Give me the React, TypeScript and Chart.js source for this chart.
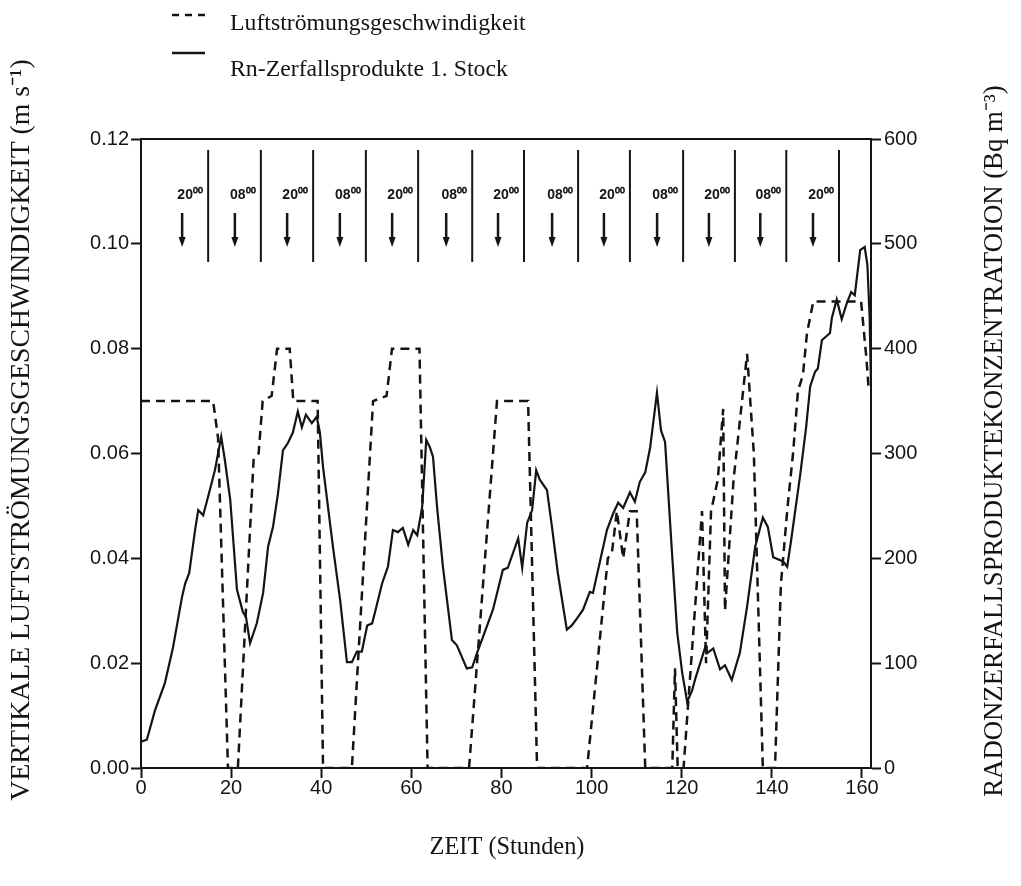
import React, { useEffect, useRef } from "react";
import { Chart, registerables } from "chart.js";

Chart.register(...registerables);

// ---- data ----
// dashed series: vertical air-flow speed (m/s), left axis
const airHours = [
  0, 16.0, 17.1, 19.3, 21.5, 25.0, 26.1, 27.0, 29.0, 30.2,
  33.0, 33.8, 39.2, 40.4, 46.8, 51.5, 54.5, 55.7, 61.8, 63.6,
  72.8, 79.0, 85.9, 87.9, 99.0, 103.6, 104.5, 105.6, 107.0, 108.5,
  110.0, 111.9, 117.9, 118.5, 119.1, 120.4, 124.5, 125.4, 126.5, 128.0,
  129.2, 129.6, 131.5, 134.5, 136.0, 138.0, 140.7, 142.0, 143.5, 144.7,
  145.8, 146.9, 147.8, 149.2, 159.8, 161.0, 161.5,
];
const airSpeed = [
  0.07, 0.07, 0.063, 0, 0, 0.059, 0.06, 0.07, 0.071, 0.08,
  0.08, 0.07, 0.07, 0, 0, 0.07, 0.071, 0.08, 0.08, 0,
  0, 0.07, 0.07, 0, 0, 0.04, 0.041, 0.049, 0.04, 0.049,
  0.049, 0, 0, 0.019, 0, 0, 0.049, 0.02, 0.049, 0.055,
  0.0685, 0.03, 0.055, 0.079, 0.06, 0, 0, 0.035, 0.05, 0.06,
  0.072, 0.075, 0.083, 0.089, 0.089, 0.078, 0.072,
];

// solid series: Rn decay products, ground floor (Bq/m3), right axis
const radonHours = [
  0, 1.3, 3.1, 5.3, 7.1, 9.1, 9.8, 10.7, 12.0, 12.7,
  13.8, 14.9, 16.4, 17.8, 18.6, 19.8, 21.3, 22.6, 23.3, 24.2,
  25.7, 27.1, 28.2, 29.3, 30.4, 31.5, 32.6, 33.7, 34.8, 35.7,
  36.6, 37.9, 39.0, 39.7, 40.4, 42.6, 44.2, 45.7, 46.8, 47.9,
  49.0, 50.2, 51.3, 51.9, 53.5, 54.8, 55.9, 57.0, 58.1, 59.3,
  60.4, 61.3, 62.4, 63.3, 64.1, 64.8, 65.7, 67.0, 69.0, 70.1,
  71.2, 72.3, 73.5, 74.6, 75.9, 78.1, 80.3, 81.4, 83.7, 84.6,
  85.7, 86.8, 87.7, 88.5, 90.1, 91.2, 92.5, 94.5, 95.6, 96.8,
  98.1, 99.6, 100.3, 101.9, 103.4, 104.8, 105.9, 107.0, 108.5, 109.6,
  110.7, 111.9, 113.0, 114.5, 115.4, 116.3, 117.8, 119.0, 120.1, 121.2,
  122.3, 123.0, 124.1, 125.2, 125.8, 127.0, 128.5, 129.6, 131.1, 132.9,
  134.5, 136.3, 138.0, 139.1, 140.3, 142.5, 143.4, 144.3, 146.3, 147.6,
  148.5, 149.6, 150.2, 151.1, 152.9, 153.3, 154.4, 155.5, 156.6, 157.6,
  158.4, 159.6, 160.6, 161.2, 161.7, 162.0,
];
const radonConc = [
  25, 27, 55, 81, 115, 163, 176, 186, 227, 246,
  241, 259, 284, 316, 294, 256, 170, 149, 144, 119,
  138, 167, 211, 230, 262, 303, 310, 320, 340, 325,
  337, 329, 335, 320, 287, 211, 160, 101, 101, 111,
  111, 136, 138, 148, 176, 192, 227, 225, 229, 213,
  227, 222, 249, 313, 306, 297, 249, 192, 122, 117,
  106, 95, 96, 110, 125, 151, 189, 191, 219, 191,
  234, 246, 284, 275, 265, 230, 186, 132, 136, 143,
  151, 168, 167, 198, 227, 243, 253, 248, 263, 254,
  273, 282, 306, 358, 322, 311, 208, 129, 91, 63,
  74, 85, 100, 115, 110, 114, 94, 98, 84, 110,
  154, 211, 239, 230, 201, 197, 192, 218, 280, 325,
  364, 378, 381, 408, 415, 429, 447, 428, 443, 454,
  451, 494, 497, 480, 430, 365,
];

// time markers in the top band
const markerHours = [14.9, 26.6, 38.2, 49.9, 61.5, 73.5, 85.0, 97.0, 108.5, 120.3, 131.8, 143.2, 154.9];
const markerLabels = [
  "20⁰⁰", "08⁰⁰", "20⁰⁰", "08⁰⁰", "20⁰⁰", "08⁰⁰", "20⁰⁰",
  "08⁰⁰", "20⁰⁰", "08⁰⁰", "20⁰⁰", "08⁰⁰", "20⁰⁰",
];

const legendLabels = ["Luftströmungsgeschwindigkeit", "Rn-Zerfallsprodukte 1. Stock"];
const leftTitle = "VERTIKALE LUFTSTRÖMUNGSGESCHWINDIGKEIT (m s⁻¹)";
const rightTitle = "RADONZERFALLSPRODUKTEKONZENTRATOION (Bq m⁻³)";
const xTitle = "ZEIT (Stunden)";

const INK = "#141414";
const SANS = '"Liberation Sans", Arial, Helvetica, sans-serif';
const SERIF = '"Liberation Serif", "Times New Roman", Times, serif';

function fitSize(ctx: CanvasRenderingContext2D, text: string, family: string, target: number) {
  ctx.font = `100px ${family}`;
  const w = ctx.measureText(text).width;
  return (100 * target) / w;
}

const annotPlugin = {
  id: "annot",
  afterDraw(chart: any) {
    const { ctx, chartArea: ca, scales } = chart;
    const xs = scales.x;
    ctx.save();
    ctx.strokeStyle = INK;
    ctx.fillStyle = INK;

    // top frame line
    ctx.lineWidth = 2;
    ctx.beginPath();
    ctx.moveTo(ca.left, ca.top);
    ctx.lineTo(ca.right, ca.top);
    ctx.stroke();

    // time marker band
    markerHours.forEach((h, i) => {
      const px = xs.getPixelForValue(h);
      ctx.lineWidth = 2;
      ctx.beginPath();
      ctx.moveTo(px, ca.top + 11);
      ctx.lineTo(px, ca.top + 123);
      ctx.stroke();

      ctx.font = `bold 14px ${SANS}`;
      ctx.textAlign = "center";
      ctx.textBaseline = "middle";
      ctx.fillText(markerLabels[i], px - 18, ca.top + 56);

      const ax = px - 26;
      ctx.lineWidth = 2.5;
      ctx.beginPath();
      ctx.moveTo(ax, ca.top + 74);
      ctx.lineTo(ax, ca.top + 100);
      ctx.stroke();
      ctx.beginPath();
      ctx.moveTo(ax - 3.5, ca.top + 98);
      ctx.lineTo(ax + 3.5, ca.top + 98);
      ctx.lineTo(ax, ca.top + 108);
      ctx.closePath();
      ctx.fill();
    });

    // legend
    ctx.lineWidth = 2.5;
    ctx.setLineDash([7, 6]);
    ctx.beginPath();
    ctx.moveTo(172, 15);
    ctx.lineTo(206, 15);
    ctx.stroke();
    ctx.setLineDash([]);
    ctx.beginPath();
    ctx.moveTo(172, 53);
    ctx.lineTo(205, 53);
    ctx.stroke();

    ctx.textAlign = "left";
    ctx.textBaseline = "alphabetic";
    const lfs = fitSize(ctx, legendLabels[1], SERIF, 278);
    ctx.font = `${lfs}px ${SERIF}`;
    ctx.fillText(legendLabels[0], 230, 30);
    ctx.fillText(legendLabels[1], 230, 76);

    // axis titles
    ctx.textAlign = "center";
    ctx.textBaseline = "middle";
    let fs = fitSize(ctx, xTitle, SERIF, 155);
    ctx.font = `${fs}px ${SERIF}`;
    ctx.fillText(xTitle, 507, 848);

    fs = fitSize(ctx, leftTitle, SERIF, 742);
    ctx.font = `${fs}px ${SERIF}`;
    ctx.save();
    ctx.translate(22, 430);
    ctx.rotate(-Math.PI / 2);
    ctx.fillText(leftTitle, 0, 0);
    ctx.restore();

    fs = fitSize(ctx, rightTitle, SERIF, 712);
    ctx.font = `${fs}px ${SERIF}`;
    ctx.save();
    ctx.translate(995, 441);
    ctx.rotate(-Math.PI / 2);
    ctx.fillText(rightTitle, 0, 0);
    ctx.restore();

    ctx.restore();
  },
};

export default function App() {
  const ref = useRef<HTMLCanvasElement | null>(null);

  useEffect(() => {
    if (!ref.current) return;
    const tickFont = { family: SANS, size: 20 };
    const grid = {
      drawOnChartArea: false,
      drawTicks: true,
      tickLength: 10,
      tickWidth: 2,
      tickColor: INK,
    };
    const border = { display: true, width: 2, color: INK };

    const chart = new Chart(ref.current, {
      type: "line",
      data: {
        datasets: [
          {
            label: legendLabels[0],
            data: airHours.map((h, i) => ({ x: h, y: airSpeed[i] })),
            yAxisID: "y",
            borderColor: INK,
            borderWidth: 2.5,
            borderDash: [9, 6],
            pointRadius: 0,
            tension: 0,
            fill: false,
          },
          {
            label: legendLabels[1],
            data: radonHours.map((h, i) => ({ x: h, y: radonConc[i] })),
            yAxisID: "y1",
            borderColor: INK,
            borderWidth: 2.2,
            pointRadius: 0,
            tension: 0,
            fill: false,
          },
        ],
      },
      options: {
        animation: false,
        responsive: false,
        devicePixelRatio: 1,
        layout: { padding: { top: 139, left: 0, right: 0, bottom: 0 } },
        plugins: { legend: { display: false }, tooltip: { enabled: false } },
        scales: {
          x: {
            type: "linear",
            min: 0,
            max: 162,
            afterFit: (s: any) => {
              s.height = 118;
            },
            ticks: {
              stepSize: 20,
              includeBounds: false,
              color: INK,
              font: tickFont,
              padding: -2,
              maxRotation: 0,
              autoSkip: false,
            },
            grid,
            border,
          },
          y: {
            type: "linear",
            position: "left",
            min: 0,
            max: 0.12,
            afterFit: (s: any) => {
              s.width = 141;
            },
            ticks: {
              stepSize: 0.02,
              color: INK,
              font: tickFont,
              padding: 2,
              callback: (v: any) => Number(v).toFixed(2),
            },
            grid,
            border,
          },
          y1: {
            type: "linear",
            position: "right",
            min: 0,
            max: 600,
            afterFit: (s: any) => {
              s.width = 150;
            },
            ticks: {
              stepSize: 100,
              color: INK,
              font: tickFont,
              padding: 3,
            },
            grid,
            border,
          },
        },
      },
      plugins: [annotPlugin],
    });
    return () => chart.destroy();
  }, []);

  return (
    <div style={{ position: "fixed", left: 0, top: 0, width: 1021, height: 886, background: "#fff" }}>
      <canvas ref={ref} width={1021} height={886} style={{ width: 1021, height: 886, display: "block" }} />
    </div>
  );
}
